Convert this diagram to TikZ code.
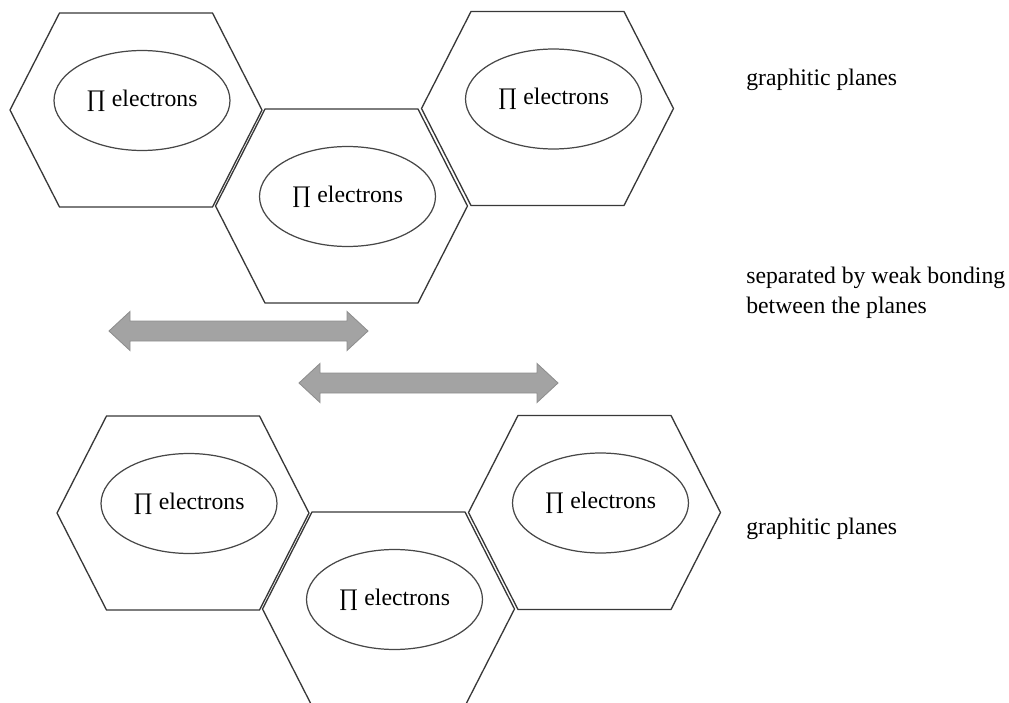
\documentclass[tikz,border=0pt]{standalone}
\usepackage{fontspec}
\setmainfont{Liberation Serif}
\usetikzlibrary{shapes.geometric}

\begin{document}
\begin{tikzpicture}[
    x=0.02cm, y=-0.02cm,
    plane/.style={draw=black!78, line width=0.75pt},
    cloud/.style={ellipse, draw=black!72, line width=0.7pt, minimum width=3.52cm, minimum height=2cm, inner sep=0pt, font=\fontsize{13.5}{16}\selectfont},
    bond/.style={fill=black!36, draw=black!44, line width=0.5pt},
    note/.style={anchor=base west, inner sep=0pt, align=left, font=\fontsize{13.5}{17}\selectfont},
]
\useasboundingbox (0,0) rectangle (1009,703);
\clip (0,0) rectangle (1009,703);

% --- hexagonal planes with their pi clouds ---
\foreach \cx/\cy/\nm in {136/110/pA, 341.5/206/pB, 547.5/108.5/pC, 183/513/pD, 388.5/609/pE, 594.5/512.5/pF} {
    \draw[plane] (\cx-126,\cy) -- (\cx-76.5,\cy-97) -- (\cx+76.5,\cy-97) -- (\cx+126,\cy)
        -- (\cx+76.5,\cy+97) -- (\cx-76.5,\cy+97) -- cycle;
    \node[cloud] (\nm) at (\cx+6,\cy-9.5) {∏ electrons};
}

% --- weak bonding arrows ---
\foreach \xl/\xr/\yy in {109/368/331, 299/558/383} {
    \draw[bond] (\xl,\yy) -- (\xl+21,\yy-19.5) -- (\xl+21,\yy-10) -- (\xr-21,\yy-10)
        -- (\xr-21,\yy-19.5) -- (\xr,\yy) -- (\xr-21,\yy+19.5) -- (\xr-21,\yy+10)
        -- (\xl+21,\yy+10) -- (\xl+21,\yy+19.5) -- cycle;
}

% --- labels ---
\node[note] (topnote) at (746,86) {graphitic planes};
\node[note] (gapnote) at (746,313) {separated by weak bonding\\between the planes};
\node[note] (lownote) at (746,534) {graphitic planes};

\end{tikzpicture}
\end{document}
